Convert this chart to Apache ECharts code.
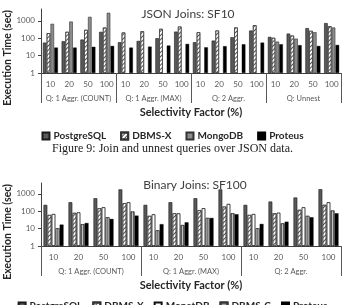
<!DOCTYPE html>
<html>
<head>
<meta charset="utf-8">
<script src="https://cdn.jsdelivr.net/npm/echarts@6/dist/echarts.min.js"></script>
<style>
  html, body { margin: 0; padding: 0; background: #fff; }
  #main { width: 345px; height: 305px; }
</style>
</head>
<body>
<div id="main"></div>
<script>
    // selectivity factors and query groups
    var selectivity = ['10', '20', '50', '100'];
    var jsonGroups = ['Q: 1 Aggr. (COUNT)', 'Q: 1 Aggr. (MAX)', 'Q: 2 Aggr.', 'Q: Unnest'];
    var binGroups = ['Q: 1 Aggr. (COUNT)', 'Q: 1 Aggr. (MAX)', 'Q: 2 Aggr.'];
    var yTicks = [1, 10, 100, 1000];

    // JSON Joins: SF10, execution time (sec)
    var jsonPostgres = [56, 67, 84, 233, 59, 70, 100, 240, 59, 73, 114, 277, 120, 185, 380, 740];
    var jsonDbmsX = [195, 233, 303, 410, 213, 251, 345, 470, 220, 277, 414, 560, 105, 142, 265, 490];
    var jsonMongo = [675, 910, 1700, 2900, null, null, null, null, null, null, null, null, 64, 95, 222, 415];
    var jsonProteus = [29, 29, 32, 36, 29, 33, 38, 47, 30, 35, 45, 56, 45, 40, 36, 41];

    // Binary Joins: SF100, execution time (sec)
    var binPostgres = [232, 330, 560, 1800, 232, 330, 560, 1800, 232, 360, 615, 1850];
    var binDbmsX = [61, 80, 148, 290, 54, 76, 115, 185, 61, 76, 120, 232];
    var binMonet = [70, 87, 170, 330, 67, 76, 150, 265, 70, 83, 170, 330];
    var binDbmsC = [10.5, 18, 45, 96, 8, 16, 41, 76, 10.5, 20, 54, 110];
    var binProteus = [17, 21, 36, 56, 18, 23, 41, 67, 18.6, 25, 45, 76];

    var font = 'Lato';
    var jsonCats = [];
    jsonGroups.forEach(function () { jsonCats = jsonCats.concat(selectivity); });
    var binCats = [];
    binGroups.forEach(function () { binCats = binCats.concat(selectivity); });

    var styles = {
        'PostgreSQL': { color: '#595959', borderColor: '#1a1a1a', borderWidth: 0.6 },
        'DBMS-X': { color: '#ffffff', borderColor: '#333', borderWidth: 0.6,
            decal: { symbol: 'rect', symbolSize: 1, color: '#555', dashArrayX: [1, 0], dashArrayY: [1, 2], rotation: -Math.PI / 4 } },
        'MongoDB': { color: '#8c8c8c', borderColor: '#333', borderWidth: 0.6 },
        'MonetDB': { color: '#ffffff', borderColor: '#111', borderWidth: 0.8 },
        'DBMS-C': { color: '#7a7a7a', borderColor: '#333', borderWidth: 0.6,
            decal: { symbol: 'rect', symbolSize: 1, color: 'rgba(255,255,255,0.55)', dashArrayX: [1, 1], dashArrayY: [1, 0] } },
        'Proteus': { color: '#000000', borderColor: '#000', borderWidth: 0.4 }
    };

    function bar(name, data, idx, gap) {
        return {
            type: 'bar', name: name, data: data,
            xAxisIndex: idx * 2, yAxisIndex: idx,
            barGap: '6%', barCategoryGap: gap,
            itemStyle: styles[name]
        };
    }

    function catAxis(gridIndex, cats) {
        return {
            type: 'category', gridIndex: gridIndex, position: 'bottom', data: cats,
            axisLine: { lineStyle: { color: '#404040', width: 1 } },
            axisTick: { show: false },
            axisLabel: { interval: 0, margin: 7, fontFamily: font, fontSize: 8, color: '#595959' }
        };
    }

    function groupAxis(gridIndex, groups) {
        return {
            type: 'category', gridIndex: gridIndex, position: 'bottom', data: groups,
            name: 'Selectivity Factor (%)', nameLocation: 'middle', nameGap: 34,
            nameTextStyle: { fontFamily: font, fontSize: 11, fontWeight: 'bold', color: '#262626' },
            axisLine: { show: false },
            axisTick: { show: true, length: 30, interval: 0, lineStyle: { color: '#595959' } },
            axisLabel: { interval: 0, margin: 22, fontFamily: font, fontSize: 7.5, color: '#595959' }
        };
    }

    function logAxis(gridIndex, max) {
        return {
            type: 'log', logBase: 10, gridIndex: gridIndex, min: 1, max: max,
            axisLine: { show: true, lineStyle: { color: '#404040' } },
            axisTick: { show: true, length: 3, customValues: yTicks, lineStyle: { color: '#404040' } },
            axisLabel: { customValues: yTicks, margin: 6, fontFamily: font, fontSize: 8, color: '#595959',
                formatter: function (v) { return String(Math.round(v)); } },
            splitLine: { show: false }
        };
    }

    var myChart = echarts.init(document.getElementById('main'), null, { renderer: 'canvas' });
    myChart.setOption({
        animation: false,
        title: [
            { text: 'JSON Joins: SF10', left: 183, top: 3, textAlign: 'center',
              textStyle: { fontFamily: font, fontSize: 12, fontWeight: 'normal', color: '#404040' } },
            { text: 'Binary Joins: SF100', left: 190, top: 174, textAlign: 'center',
              textStyle: { fontFamily: font, fontSize: 12, fontWeight: 'normal', color: '#404040' } }
        ],
        legend: [
            { data: ['PostgreSQL', 'DBMS-X', 'MongoDB', 'Proteus'], left: 'center', top: 126,
              icon: 'rect', itemWidth: 7, itemHeight: 7, itemGap: 14,
              textStyle: { fontFamily: font, fontSize: 10, fontWeight: 'bold', color: '#262626', padding: [0, 0, 0, -1] } },
            { data: ['PostgreSQL', 'DBMS-X', 'MonetDB', 'DBMS-C', 'Proteus'], left: 'center', top: 296,
              width: 345, icon: 'rect', itemWidth: 7, itemHeight: 7, itemGap: 10,
              textStyle: { fontFamily: font, fontSize: 10, fontWeight: 'bold', color: '#262626', padding: [0, 0, 0, -1] } }
        ],
        graphic: [
            { type: 'text', left: 2, top: 10, rotation: Math.PI / 2,
              style: { text: 'Execution Time (sec)', font: 'bold 10.5px Lato', fill: '#262626' } },
            { type: 'text', left: 2, top: 184, rotation: Math.PI / 2,
              style: { text: 'Execution Time (sec)', font: 'bold 10.5px Lato', fill: '#262626' } },
            { type: 'text', left: 'center', top: 143,
              style: { text: 'Figure 9: Join and unnest queries over JSON data.', font: '12px "Liberation Serif"', fill: '#1a1a1a' } }
        ],
        grid: [
            { left: 41, right: 4, top: 9, height: 64 },
            { left: 41, right: 4, top: 183, height: 63 }
        ],
        xAxis: [
            catAxis(0, jsonCats), groupAxis(0, jsonGroups),
            catAxis(1, binCats), groupAxis(1, binGroups)
        ],
        yAxis: [logAxis(0, 4800), logAxis(1, 4200)],
        series: [
            bar('PostgreSQL', jsonPostgres, 0, '20%'),
            bar('DBMS-X', jsonDbmsX, 0, '20%'),
            bar('MongoDB', jsonMongo, 0, '20%'),
            bar('Proteus', jsonProteus, 0, '20%'),
            bar('PostgreSQL', binPostgres, 1, '20%'),
            bar('DBMS-X', binDbmsX, 1, '20%'),
            bar('MonetDB', binMonet, 1, '20%'),
            bar('DBMS-C', binDbmsC, 1, '20%'),
            bar('Proteus', binProteus, 1, '20%')
        ]
    });
</script>
</body>
</html>
